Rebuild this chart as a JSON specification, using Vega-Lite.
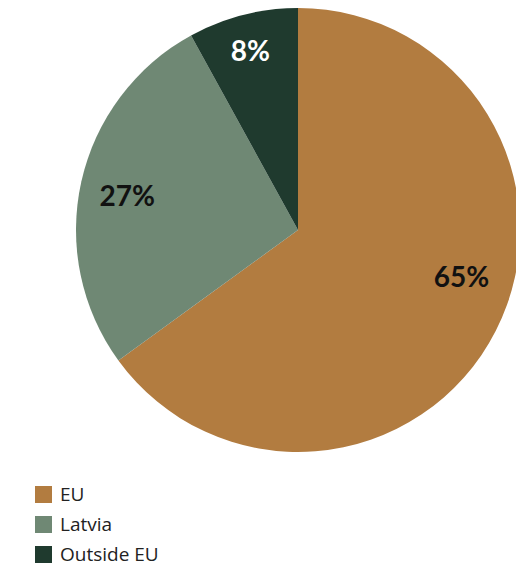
{
  "$schema": "https://vega.github.io/schema/vega-lite/v6.json",
  "width": 516,
  "height": 566,
  "autosize": "none",
  "padding": 0,
  "background": "white",
  "data": {"values": [
    {"region": "EU", "share": 65, "label": "65%", "order": 1},
    {"region": "Latvia", "share": 27, "label": "27%", "order": 2},
    {"region": "Outside EU", "share": 8, "label": "8%", "order": 3}
  ]},
  "encoding": {
    "theta": {"field": "share", "type": "quantitative", "stack": true},
    "order": {"field": "order", "type": "quantitative"}
  },
  "layer": [
    {
      "mark": {"type": "arc", "outerRadius": 222, "x": 298, "y": 230},
      "encoding": {
        "color": {
          "field": "region", "type": "nominal",
          "scale": {"domain": ["EU", "Latvia", "Outside EU"], "range": ["#b27c40", "#6f8874", "#1f3a2e"]},
          "legend": {
            "title": null, "orient": "none", "legendX": 34, "legendY": 485,
            "symbolType": "square", "symbolSize": 289, "symbolStrokeWidth": 0,
            "labelFont": "Open Sans", "labelFontSize": 19, "labelColor": "#222222",
            "labelOffset": 7, "rowPadding": 10
          }
        }
      }
    },
    {
      "mark": {"type": "text", "radius": 180, "x": 298, "y": 230, "dx": 5, "dy": 7, "font": "Lato", "fontWeight": "bold", "fontSize": 28, "color": "#111111", "align": "center", "baseline": "middle"},
      "encoding": {"text": {"condition": {"test": "datum.region === 'Latvia'", "field": "label"}, "value": ""}}
    },
    {
      "mark": {"type": "text", "radius": 180, "x": 298, "y": 230, "dx": -3, "dy": -3, "font": "Lato", "fontWeight": "bold", "fontSize": 28, "color": "#ffffff", "align": "center", "baseline": "middle"},
      "encoding": {"text": {"condition": {"test": "datum.region === 'Outside EU'", "field": "label"}, "value": ""}}
    },
    {
      "mark": {"type": "text", "radius": 180, "x": 298, "y": 230, "dx": 3, "dy": -33, "font": "Lato", "fontWeight": "bold", "fontSize": 28, "color": "#111111", "align": "center", "baseline": "middle"},
      "encoding": {"text": {"condition": {"test": "datum.region === 'EU'", "field": "label"}, "value": ""}}
    }
  ]
}
